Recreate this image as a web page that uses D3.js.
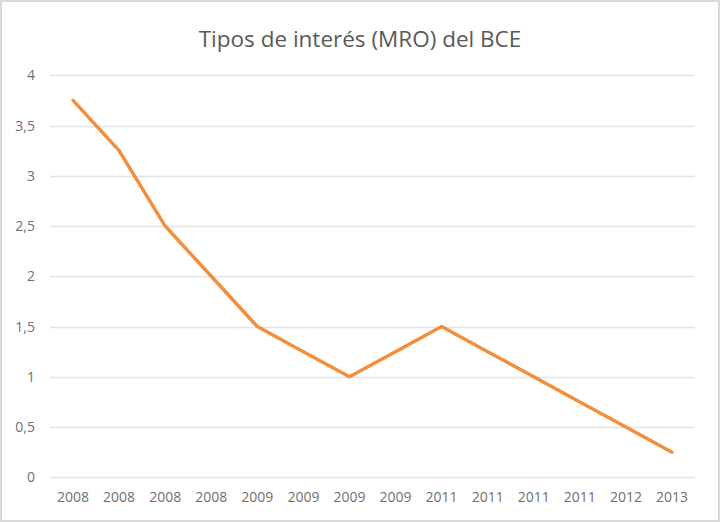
<!DOCTYPE html>
<html><head><meta charset="utf-8">
<script src="https://cdn.jsdelivr.net/npm/d3@7"></script>
<style>body{margin:0;background:#fff}svg{display:block}</style>
</head><body>
<svg id="c" width="720" height="522"></svg>
<script>
const categories = ["2008","2008","2008","2008","2009","2009","2009","2009","2011","2011","2011","2011","2012","2013"];
const values = [3.75,3.25,2.5,2.0,1.5,1.25,1.0,1.25,1.5,1.25,1.0,0.75,0.5,0.25];
const yTicks = [0,0.5,1,1.5,2,2.5,3,3.5,4];
const title = "Tipos de interés (MRO) del BCE";

const svg = d3.select("#c");
const W = 720, H = 522;
const m = {left:50, right:25, top:75.3, bottom:45};
const font = "'Open Sans', sans-serif";

svg.append("rect").attr("x",1).attr("y",1).attr("width",W-2).attr("height",H-2)
  .attr("fill","#fff").attr("stroke","#d9d9d9").attr("stroke-width",2);

const idx = categories.map((d,i)=>i);
const x = d3.scaleBand().domain(idx).range([m.left, W-m.right]);
const y = d3.scaleLinear().domain([0,4]).range([477.3, m.top]);

svg.append("g").selectAll("line").data(yTicks).join("line")
  .attr("x1",m.left).attr("x2",W-m.right)
  .attr("y1",d=>Math.round(y(d))+0.5).attr("y2",d=>Math.round(y(d))+0.5)
  .attr("stroke","#e3e3e3").attr("stroke-width",1.3);

const fmt = d => String(d).replace(".", ",");
const ya = svg.append("g").attr("transform",`translate(${m.left},0)`)
  .call(d3.axisLeft(y).tickValues(yTicks).tickFormat(fmt).tickSize(0).tickPadding(15));
ya.select(".domain").remove();
ya.selectAll("text").attr("font-family",font).attr("font-size",14).attr("fill","#707070");

const xa = svg.append("g").attr("transform",`translate(0,${y(0)})`)
  .call(d3.axisBottom(x).tickFormat(i=>categories[i]).tickSize(0).tickPadding(15));
xa.select(".domain").remove();
xa.selectAll("text").attr("font-family",font).attr("font-size",14).attr("fill","#707070");

const line = d3.line().x((d,i)=>x(i)+x.bandwidth()/2).y(d=>y(d));
svg.append("path").datum(values).attr("d",line)
  .attr("fill","none").attr("stroke","#F28E3C").attr("stroke-width",3.5)
  .attr("stroke-linejoin","round").attr("stroke-linecap","round");

svg.append("text").attr("x",360).attr("y",47).attr("text-anchor","middle")
  .attr("font-family",font).attr("font-size",22.5).attr("fill","#595959").text(title);
</script>
</body></html>
